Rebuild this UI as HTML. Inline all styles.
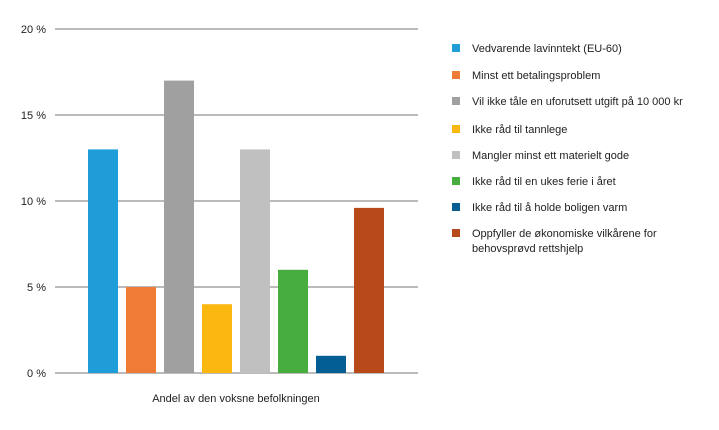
<!DOCTYPE html>
<html><head><meta charset="utf-8"><style>
body{margin:0;background:#fff;font-family:"Liberation Sans",sans-serif;}
svg text{font-family:"Liberation Sans",sans-serif;font-size:11px;fill:#222;}
</style></head><body>
<svg width="719" height="425" id="c"></svg>
<script>
const categories=["Vedvarende lavinntekt (EU-60)","Minst ett betalingsproblem","Vil ikke tåle en uforutsett utgift på 10 000 kr","Ikke råd til tannlege","Mangler minst ett materielt gode","Ikke råd til en ukes ferie i året","Ikke råd til å holde boligen varm","Oppfyller de økonomiske vilkårene for|behovsprøvd rettshjelp"];
const values=[13,5,17,4,13,6,1,9.6];
const ticks=[0,5,10,15,20];
const colors=["#1e9dd9","#ef7b37","#a0a0a0","#fbb811","#c0c0c0","#46ad3e","#035e94","#b84a19"];
const svg=document.getElementById('c');const NS="http://www.w3.org/2000/svg";
function y(v){return 373-v*17.2;}
function x(i){return 88+i*38;}
function mk(t,a,txt){const e=document.createElementNS(NS,t);for(const k in a)e.setAttribute(k,a[k]);if(txt!=null)e.textContent=txt;svg.appendChild(e);return e;}
ticks.forEach(t=>{
 const l=mk('line',{x1:55,x2:418,y1:y(t),y2:y(t),stroke:'#777','stroke-width':1});
 
 
 const tx=mk('text',{x:46,y:y(t)+4,'text-anchor':'end'},t+' %');
 
 
});
values.forEach((v,i)=>{
 const r=mk('rect',{x:x(i),y:y(v),width:30,height:373-y(v),fill:colors[i]});
 
 
});
const xl=mk('text',{x:236,y:402,'text-anchor':'middle'},'Andel av den voksne befolkningen');


const rows=[48,75,101,129,155,181,207,233];
categories.forEach((c,i)=>{
 const s=mk('rect',{x:452,y:rows[i]-4,width:8,height:8,fill:colors[i]});
 
 
 c.split('|').forEach((p,j)=>{
  const t=mk('text',{x:472,y:rows[i]+4+j*15},p);
  
  
 });
});
</script>
</body></html>
